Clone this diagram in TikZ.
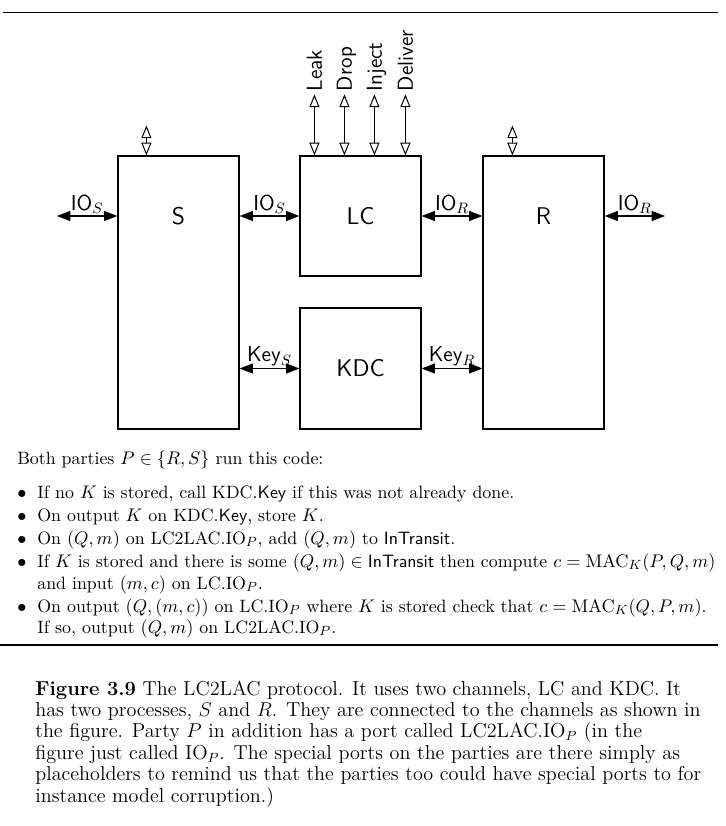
\documentclass[tikz,border=0pt]{standalone}
\usetikzlibrary{arrows.meta,calc}
\begin{document}
\begin{tikzpicture}[x=0.6pt,y=-0.6pt,
  box/.style={draw, line width=0.7pt, inner sep=0pt, minimum width=72.6pt},
  lbl/.style={font=\fontsize{13}{15}\selectfont\sffamily, inner sep=1pt},
  boxlbl/.style={font=\fontsize{14.5}{16}\selectfont\sffamily, inner sep=0pt},
  portlbl/.style={font=\fontsize{13}{15}\selectfont\sffamily, inner sep=0pt, rotate=90, anchor=west, text height=9pt, text depth=0pt},
  io/.style={line width=0.7pt, {Triangle[length=8pt,width=6pt]}-{Triangle[length=8pt,width=6pt]}},
  port/.style={line width=0.6pt, {Triangle[open,length=7.6pt,width=6pt]}-{Triangle[open,length=7.6pt,width=6pt]}},
  rulestyle/.style={line width=0.8pt},
  body/.style={font=\fontsize{10.72}{13}\selectfont, inner sep=0pt, anchor=base west},
  captext/.style={font=\fontsize{12.1}{14}\selectfont, inner sep=0pt, anchor=base west}]
\useasboundingbox (0,0) rectangle (725,826);

% rules
\coordinate (r1a) at (3,12.5); \coordinate (r1b) at (718,12.5);
\coordinate (r2a) at (0,645); \coordinate (r2b) at (718,645);
\draw[rulestyle] (r1a) -- (r1b);
\draw[rulestyle] (r2a) -- (r2b);

% boxes
\node[box, minimum height=163.8pt] (S) at (178.5,292.5) {};
\node[box, minimum height=72pt] (LC) at (360.5,216) {};
\node[box, minimum height=72.6pt] (KDC) at (360.5,368.5) {};
\node[box, minimum height=163.8pt] (R) at (543.5,292.5) {};

\node[boxlbl] (Slbl) at (178.5,216) {S};
\node[boxlbl] (LClbl) at (LC.center) {LC};
\node[boxlbl] (KDClbl) at (KDC.center) {KDC};
\node[boxlbl] (Rlbl) at (543.5,216) {R};

% IO connectors
\coordinate (ioL) at (57,216);
\coordinate (ioR) at (665,216);
\draw[io] (ioL) -- node[lbl, above] (l1) {IO$_S$} (S.west |- LC.west);
\draw[io] (S.east |- LC.west) -- node[lbl, above] (l2) {IO$_S$} (LC.west);
\draw[io] (LC.east) -- node[lbl, above] (l3) {IO$_R$} (R.west |- LC.east);
\draw[io] (R.east |- LC.east) -- node[lbl, above] (l4) {IO$_R$} (ioR);

% Key connectors
\draw[io] (S.east |- KDC.west) -- node[lbl, above] (k1) {Key$_S$} (KDC.west);
\draw[io] (KDC.east) -- node[lbl, above] (k2) {Key$_R$} (R.west |- KDC.east);

% LC special ports
\foreach \dx/\nm/\txt in {15/a/Leak, 45/b/Drop, 75/c/Inject, 106/d/Deliver}{
  \coordinate (pb\nm) at ($(LC.north west)+(\dx,0)$);
  \coordinate (pt\nm) at ($(pb\nm)+(0,-61)$);
  \draw[port] (pt\nm) -- (pb\nm);
  \node[portlbl] (pl\nm) at ($(pt\nm)+(0,-3)$) {\txt};
}

% party special ports
\coordinate (sb) at ($(S.north west)+(29,0)$);
\coordinate (st) at ($(sb)+(0,-30)$);
\draw[port] (st) -- (sb);
\coordinate (rb) at ($(R.north west)+(30,0)$);
\coordinate (rt) at ($(rb)+(0,-30)$);
\draw[port] (rt) -- (rb);

% code text
\node[body] (t0) at (17,464) {Both parties $P\in\{R,S\}$ run this code:};
\foreach \y/\nm in {498/1,521/2,544/3,567/4,612/5}{
  \node[body] (bu\nm) at (17,\y) {$\bullet$};
}
\node[body] (t1) at (37,498) {If no $K$ is stored, call KDC.\textsf{Key} if this was not already done.};
\node[body] (t2) at (37,521) {On output $K$ on KDC.\textsf{Key}, store $K$.};
\node[body] (t3) at (37,544) {On $(Q,m)$ on LC2LAC.IO$_P$, add $(Q,m)$ to \textsf{InTransit}.};
\node[body] (t4) at (37,567) {If $K$ is stored and there is some $(Q,m)\in\textsf{InTransit}$ then compute $c=\mathrm{MAC}_K(P,Q,m)$};
\node[body] (t5) at (37,589) {and input $(m,c)$ on LC.IO$_P$.};
\node[body] (t6) at (37,612) {On output $(Q,(m,c))$ on LC.IO$_P$ where $K$ is stored check that $c=\mathrm{MAC}_K(Q,P,m)$.};
\node[body] (t7) at (37,633) {If so, output $(Q,m)$ on LC2LAC.IO$_P$.};

% caption
\node[captext] (c1) at (35,695) {\textbf{Figure 3.9} The LC2LAC protocol. It uses two channels, LC and KDC. It};
\node[captext] (c2) at (35,716.4) {has two processes, $S$ and $R$. They are connected to the channels as shown in};
\node[captext] (c3) at (35,737.8) {the figure. Party $P$ in addition has a port called LC2LAC.IO$_P$ (in the};
\node[captext] (c4) at (35,759.2) {figure just called IO$_P$. The special ports on the parties are there simply as};
\node[captext] (c5) at (35,780.6) {placeholders to remind us that the parties too could have special ports to for};
\node[captext] (c6) at (35,802) {instance model corruption.)};
\end{tikzpicture}
\end{document}
